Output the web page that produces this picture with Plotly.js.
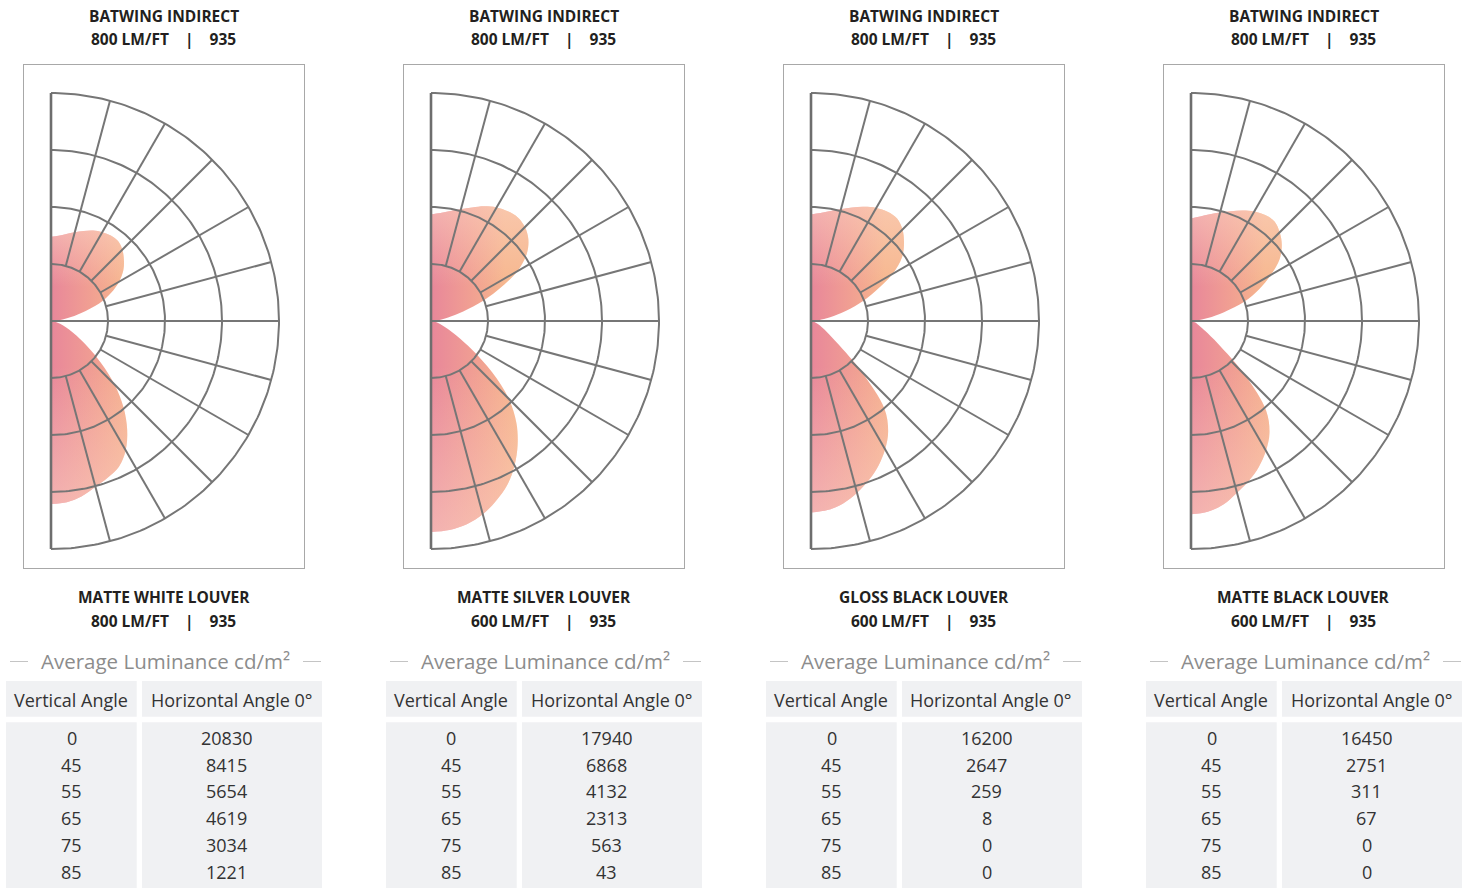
<!DOCTYPE html>
<html>
<head>
<meta charset="utf-8">
<script src="https://cdn.plot.ly/plotly-3.0.1.min.js"></script>
<style>
  html, body { margin: 0; padding: 0; background: #ffffff; }
  #chart { width: 1468px; height: 888px; }
</style>
</head>
<body>
<div id="chart"></div>
<script>
// ---------------- DATA ----------------
const topTitles = ['BATWING INDIRECT', 'BATWING INDIRECT', 'BATWING INDIRECT', 'BATWING INDIRECT'];
const topLumens = ['800 LM/FT', '800 LM/FT', '800 LM/FT', '800 LM/FT'];
const topCct = ['935', '935', '935', '935'];
const louverNames = ['MATTE WHITE LOUVER', 'MATTE SILVER LOUVER', 'GLOSS BLACK LOUVER', 'MATTE BLACK LOUVER'];
const louverLumens = ['800 LM/FT', '600 LM/FT', '600 LM/FT', '600 LM/FT'];
const louverCct = ['935', '935', '935', '935'];

const tableTitle = 'Average Luminance cd/m²';
const tableHeaders = ['Vertical Angle', 'Horizontal Angle 0°'];
const verticalAngles = [0, 45, 55, 65, 75, 85];
const matteWhiteLum  = [20830, 8415, 5654, 4619, 3034, 1221];
const matteSilverLum = [17940, 6868, 4132, 2313, 563, 43];
const glossBlackLum  = [16200, 2647, 259, 8, 0, 0];
const matteBlackLum  = [16450, 2751, 311, 67, 0, 0];

// Photometric polar curves (angle from nadir in degrees, relative intensity in grid-ring units)
const downAngles = [0, 5, 10, 15, 20, 25, 30, 35, 40, 45, 50, 55, 60, 65, 70, 75, 80, 85, 90];
const upAngles   = [90, 95, 100, 105, 110, 115, 120, 125, 130, 135, 140, 145, 150, 155, 160, 165, 170, 175, 180];

const matteWhiteDown  = [3.21, 3.19, 3.12, 3.01, 2.92, 2.82, 2.62, 2.33, 1.98, 1.58, 1.15, 0.78, 0.52, 0.35, 0.22, 0.12, 0.06, 0.02, 0];
const matteWhiteUp    = [0, 0.12, 0.30, 0.55, 0.90, 1.16, 1.38, 1.55, 1.67, 1.77, 1.83, 1.83, 1.80, 1.75, 1.68, 1.61, 1.55, 1.50, 1.48];
const matteSilverDown = [3.70, 3.68, 3.62, 3.51, 3.35, 3.17, 2.93, 2.65, 2.33, 1.93, 1.40, 0.88, 0.52, 0.32, 0.20, 0.12, 0.06, 0.02, 0];
const matteSilverUp   = [0, 0.10, 0.25, 0.50, 0.88, 1.30, 1.75, 2.05, 2.23, 2.33, 2.37, 2.35, 2.30, 2.22, 2.12, 2.03, 1.96, 1.90, 1.87];
const glossBlackDown  = [3.36, 3.33, 3.25, 3.12, 2.97, 2.80, 2.60, 2.36, 2.00, 1.25, 0.60, 0.35, 0.22, 0.14, 0.08, 0.05, 0.02, 0.01, 0];
const glossBlackUp    = [0, 0.10, 0.28, 0.55, 0.90, 1.25, 1.65, 1.95, 2.13, 2.27, 2.35, 2.34, 2.29, 2.21, 2.12, 2.03, 1.96, 1.90, 1.87];
const matteBlackDown  = [3.39, 3.36, 3.27, 3.12, 2.98, 2.82, 2.63, 2.40, 2.05, 1.33, 0.62, 0.30, 0.18, 0.12, 0.08, 0.05, 0.02, 0.01, 0];
const matteBlackUp    = [0, 0.10, 0.30, 0.60, 1.00, 1.32, 1.62, 1.90, 2.08, 2.20, 2.28, 2.27, 2.22, 2.14, 2.05, 1.97, 1.90, 1.84, 1.80];

const ringRadii = [1, 2, 3, 4];
const spokeAngles = [15, 30, 45, 60, 75, 105, 120, 135, 150, 165];

const panels = [
  { down: matteWhiteDown,  up: matteWhiteUp,  lum: matteWhiteLum },
  { down: matteSilverDown, up: matteSilverUp, lum: matteSilverLum },
  { down: glossBlackDown,  up: glossBlackUp,  lum: glossBlackLum },
  { down: matteBlackDown,  up: matteBlackUp,  lum: matteBlackLum }
];

// ---------------- LAYOUT CONSTANTS ----------------
const W = 1468, H = 888;
const STEP = 380;
const FRAME = { x0: 24, x1: 303.5, y0: 64.7, y1: 567.7 };
const CENTER = { x: 51, y: 321 };
const UNIT = 57;
const GRID_COLOR = '#767676';
const TITLE_COLOR = '#231f20';
const TABLE_BG = '#f0f1f3';
const TEXT_COLOR = '#333333';
const FONT = 'Open Sans, Noto Sans, sans-serif';
const TITLE_SIZE = 15.5;

const px = x => x / W;
const py = y => 1 - y / H;
const rad = d => d * Math.PI / 180;

function polarToXY(angles, radii) {
  const x = [], y = [];
  angles.forEach((a, k) => {
    x.push(radii[k] * Math.sin(rad(a)));
    y.push(-radii[k] * Math.cos(rad(a)));
  });
  return { x, y };
}

function gridXY() {
  const x = [], y = [];
  ringRadii.forEach(r => {
    for (let a = 0; a <= 180; a += 1) {
      x.push(r * Math.sin(rad(a)));
      y.push(-r * Math.cos(rad(a)));
    }
    x.push(null); y.push(null);
  });
  const rMin = ringRadii[0], rMax = ringRadii[ringRadii.length - 1];
  spokeAngles.forEach(a => {
    x.push(rMin * Math.sin(rad(a)), rMax * Math.sin(rad(a)), null);
    y.push(-rMin * Math.cos(rad(a)), -rMax * Math.cos(rad(a)), null);
  });
  x.push(0, rMax, null); y.push(0, 0, null);
  return { x, y };
}

const axisBase = {
  showgrid: false, zeroline: false, showticklabels: false, ticks: '',
  showline: true, mirror: true, linecolor: '#a8a8a8', linewidth: 1,
  fixedrange: true
};

const traces = [];
const layout = {
  width: W, height: H, autosize: false,
  margin: { l: 0, r: 0, t: 0, b: 0 },
  paper_bgcolor: '#ffffff', plot_bgcolor: 'rgba(0,0,0,0)',
  showlegend: false, hovermode: false,
  font: { family: FONT, color: TEXT_COLOR },
  annotations: [], shapes: []
};

const lobeScale = [[0, '#e8879a'], [0.55, '#f1a092'], [1, '#f6b78e']];
const fadeDown = [[0, 'rgba(252,212,196,0.55)'], [1, 'rgba(252,212,196,0)']];
const fadeUp = [[0, 'rgba(252,212,196,0)'], [1, 'rgba(252,212,196,0.55)']];
const grid = gridXY();
const SEP = '\u00A0\u00A0\u00A0\u00A0|\u00A0\u00A0\u00A0\u00A0';

function lobeTrace(c, sfx, grad) {
  return {
    type: 'scatter', mode: 'lines', x: c.x, y: c.y,
    xaxis: 'x' + sfx, yaxis: 'y' + sfx,
    fill: 'toself', fillgradient: grad,
    line: { width: 0, shape: 'spline', smoothing: 1 },
    hoverinfo: 'skip'
  };
}

panels.forEach((p, i) => {
  const off = i * STEP;
  const sfx = i === 0 ? '' : String(i + 1);
  layout['xaxis' + sfx] = Object.assign({}, axisBase, {
    domain: [px(FRAME.x0 + off), px(FRAME.x1 + off)],
    range: [(FRAME.x0 - CENTER.x) / UNIT, (FRAME.x1 - CENTER.x) / UNIT],
    anchor: 'y' + sfx
  });
  layout['yaxis' + sfx] = Object.assign({}, axisBase, {
    domain: [py(FRAME.y1), py(FRAME.y0)],
    range: [(CENTER.y - FRAME.y1) / UNIT, (CENTER.y - FRAME.y0) / UNIT],
    anchor: 'x' + sfx
  });

  const down = polarToXY(downAngles, p.down);
  const up = polarToXY(upAngles, p.up);
  const downMin = Math.min.apply(null, down.y);
  const upMax = Math.max.apply(null, up.y);
  traces.push(lobeTrace(down, sfx, { type: 'horizontal', start: 0, stop: 1.5, colorscale: lobeScale }));
  traces.push(lobeTrace(up, sfx, { type: 'horizontal', start: 0, stop: 1.3, colorscale: lobeScale }));
  traces.push(lobeTrace(down, sfx, { type: 'vertical', start: downMin, stop: -0.8, colorscale: fadeDown }));
  traces.push(lobeTrace(up, sfx, { type: 'vertical', start: 0.6, stop: upMax, colorscale: fadeUp }));

  traces.push({
    type: 'scatter', mode: 'lines', x: grid.x, y: grid.y,
    xaxis: 'x' + sfx, yaxis: 'y' + sfx,
    line: { color: GRID_COLOR, width: 2 },
    connectgaps: false, hoverinfo: 'skip'
  });
  // vertical axis of the photometric diagram (slightly heavier)
  traces.push({
    type: 'scatter', mode: 'lines',
    x: [0, 0], y: [-ringRadii[ringRadii.length - 1], ringRadii[ringRadii.length - 1]],
    xaxis: 'x' + sfx, yaxis: 'y' + sfx,
    line: { color: '#6e6e6e', width: 2.6 }, hoverinfo: 'skip'
  });

  const cx = 163.7 + off;
  const titleFont = { size: TITLE_SIZE, color: TITLE_COLOR, family: FONT };
  layout.annotations.push(
    { text: '<b>' + topTitles[i] + '</b>', x: px(cx), y: py(15.5), xref: 'paper', yref: 'paper', showarrow: false, xanchor: 'center', yanchor: 'middle', font: titleFont },
    { text: '<b>' + topLumens[i] + SEP + topCct[i] + '</b>', x: px(cx), y: py(39.5), xref: 'paper', yref: 'paper', showarrow: false, xanchor: 'center', yanchor: 'middle', font: titleFont },
    { text: '<b>' + louverNames[i] + '</b>', x: px(cx), y: py(597), xref: 'paper', yref: 'paper', showarrow: false, xanchor: 'center', yanchor: 'middle', font: titleFont },
    { text: '<b>' + louverLumens[i] + SEP + louverCct[i] + '</b>', x: px(cx), y: py(621), xref: 'paper', yref: 'paper', showarrow: false, xanchor: 'center', yanchor: 'middle', font: titleFont },
    { text: tableTitle, x: px(165 + off), y: py(661), xref: 'paper', yref: 'paper', showarrow: false, xanchor: 'center', yanchor: 'middle', font: { size: 20.5, color: '#8c8c8c', family: FONT } }
  );

  layout.shapes.push(
    { type: 'line', xref: 'paper', yref: 'paper', x0: px(10 + off), x1: px(28 + off), y0: py(661.5), y1: py(661.5), line: { color: '#c4c4c4', width: 1 } },
    { type: 'line', xref: 'paper', yref: 'paper', x0: px(303 + off), x1: px(321 + off), y0: py(661.5), y1: py(661.5), line: { color: '#c4c4c4', width: 1 } }
  );

  const cols = [[6, 136.7], [142, 322]];
  cols.forEach(c => {
    layout.shapes.push(
      { type: 'rect', xref: 'paper', yref: 'paper', layer: 'below', x0: px(c[0] + off), x1: px(c[1] + off), y0: py(716.7), y1: py(681), fillcolor: TABLE_BG, line: { width: 0 } },
      { type: 'rect', xref: 'paper', yref: 'paper', layer: 'below', x0: px(c[0] + off), x1: px(c[1] + off), y0: py(888), y1: py(722.3), fillcolor: TABLE_BG, line: { width: 0 } }
    );
  });
  const hdrX = [71.3 + off, 231 + off];
  tableHeaders.forEach((h, k) => {
    layout.annotations.push({ text: h, x: px(hdrX[k]), y: py(699.5), xref: 'paper', yref: 'paper', showarrow: false, xanchor: 'center', yanchor: 'middle', font: { size: 18, color: TEXT_COLOR, family: FONT } });
  });
  verticalAngles.forEach((a, r) => {
    const yy = 738 + r * 26.7;
    layout.annotations.push(
      { text: String(a), x: px(71.5 + off), y: py(yy), xref: 'paper', yref: 'paper', showarrow: false, xanchor: 'center', yanchor: 'middle', font: { size: 18, color: TEXT_COLOR, family: FONT } },
      { text: String(p.lum[r]), x: px(226.7 + off), y: py(yy), xref: 'paper', yref: 'paper', showarrow: false, xanchor: 'center', yanchor: 'middle', font: { size: 18, color: TEXT_COLOR, family: FONT } }
    );
  });
});

Plotly.newPlot('chart', traces, layout, { staticPlot: true, displayModeBar: false });
</script>
</body>
</html>
